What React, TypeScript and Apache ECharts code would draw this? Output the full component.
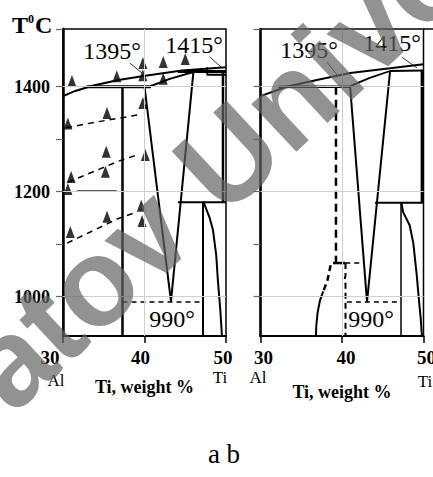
import React, { useEffect, useRef } from "react";
import * as echarts from "echarts";

// ---------- axes ----------
const xTicks = [30, 40, 50];
const yLabelValues = [1000, 1200, 1400];
const yTickValues = [1000, 1100, 1200, 1300, 1400, 1510];
const gridTemps = [1000, 1200, 1400];
const gridTi = [40];

// ---------- panel a ----------
const aLiquidus = [[30, 1382], [31.5, 1392], [33.6, 1402], [36.8, 1413], [40.1, 1421], [44.6, 1431], [50, 1437]];
const aPeritectic = [[32.9, 1400], [40.8, 1400]];
const aSolidus = [[40.7, 1401], [43.1, 1415], [46, 1428]];
const a1415 = [[44.1, 1429], [50, 1429]];
const aBox = [[47.7, 1437], [47.7, 1423], [50, 1423]];
const aVertical = [[37.3, 1400], [37.3, 925]];
const aVLeft = [[40.0, 1400], [43.25, 991]];
const aVRight = [[46.0, 1428], [43.25, 991]];
const a990 = [[37.3, 990], [46.9, 990]];
const aWall = [[49.63, 1429], [49.63, 1180]];
const aShelf = [[44.1, 1180], [50, 1180]];
const aInner = [[47.18, 1180], [47.18, 925]];
const aSolvus = [[47.3, 1178], [47.6, 1166], [48.0, 1150], [48.4, 1127], [48.8, 1079], [49.0, 1032], [49.3, 975], [49.5, 926]];
const aLeader1395 = [[38.2, 1445], [39.7, 1426]];
const aLeader1415 = [[48.0, 1457], [49.5, 1436]];
const aRowB = [[30.4, 1322], [34.2, 1333], [39.1, 1346]];
const aRowC = [[30.6, 1218], [36.8, 1258], [39.1, 1270]];
const aRowD = [[30.5, 1102], [36.8, 1149], [38.8, 1160]];
const aDark1200 = [[31.7, 1202], [36.6, 1202]];
const aPoints = [
  [31.1, 1411], [36.6, 1420], [39.8, 1445], [39.8, 1422], [42.3, 1447], [42.3, 1415], [45.0, 1453],
  [30.6, 1330], [35.4, 1350], [39.8, 1369],
  [35.3, 1276], [35.2, 1238], [40.1, 1270], [31.0, 1228], [30.6, 1205],
  [30.9, 1123], [35.4, 1152], [39.6, 1173], [39.7, 1144],
];

// ---------- panel b ----------
const bLiquidus = [[30, 1382], [33.2, 1400], [36.9, 1413], [41, 1426], [45.9, 1435], [50, 1443]];
const bPeritectic = [[32.2, 1400], [41.0, 1400]];
const bSolidus = [[41.0, 1401], [43.4, 1417], [45.9, 1430]];
const b1415 = [[45.9, 1430], [50, 1431]];
const bDashedVert = [[39.26, 1400], [39.26, 1064]];
const bBar = [[38.9, 1064], [40.4, 1064]];
const bDashedShelf = [[40.4, 1064], [42.7, 1064]];
const bDashedVert2 = [[40.43, 1064], [40.43, 1040], [40.3, 1032], [40.43, 1024], [40.43, 925]];
const bCurveDashed = [[38.6, 1060], [38.2, 1030], [37.7, 1010]];
const bCurveSolid = [[37.7, 1010], [37.3, 993], [37.0, 969], [36.85, 945], [36.8, 925]];
const bVLeft = [[41.0, 1400], [43.07, 990]];
const bVRight = [[45.9, 1430], [43.07, 990]];
const b990 = [[40.6, 990], [47.1, 990]];
const bWall = [[49.8, 1430], [49.8, 1179]];
const bShelf = [[44.05, 1179], [50, 1179]];
const bInner = [[47.24, 1179], [47.24, 925]];
const bSolvus = [[47.3, 1178], [47.5, 1161], [48.3, 1136], [48.75, 1102], [49.17, 1041], [49.4, 1000], [49.65, 960], [49.8, 926]];
const bLeader1395 = [[38.16, 1447], [39.4, 1422]];
const bLeader1415 = [[47.36, 1456], [49.2, 1436]];

const serif = "'Liberation Serif', 'Times New Roman', serif";

function ln(data: number[][], g: number, width: number, type: any = "solid", color = "#000") {
  return {
    type: "line",
    xAxisIndex: g,
    yAxisIndex: g,
    data,
    showSymbol: false,
    symbol: "none",
    silent: true,
    clip: false,
    z: 3,
    lineStyle: { color, width, type },
  };
}

function xAxisFor(g: number, offsets: Record<number, number>, nameGap: number) {
  const rich: any = {};
  xTicks.forEach((v) => {
    const o = offsets[v];
    rich["p" + v] = {
      fontFamily: serif,
      fontWeight: "bold",
      fontSize: 19,
      color: "#000",
      padding: o < 0 ? [0, -2 * o, 0, 0] : [0, 0, 0, 2 * o],
    };
  });
  return {
    type: "value",
    gridIndex: g,
    min: 30,
    max: 50,
    interval: 10,
    axisLine: { show: true, onZero: false, lineStyle: { color: "#000", width: 2 } },
    axisTick: { show: true, length: 7, lineStyle: { color: "#000", width: 1.5 } },
    axisLabel: {
      margin: 12,
      formatter: (v: number) => "{p" + v + "|" + v + "}",
      rich,
    },
    splitLine: { show: false },
    name: "Ti, weight %",
    nameLocation: "middle",
    nameGap,
    nameTextStyle: { fontFamily: serif, fontWeight: "bold", fontSize: 18, color: "#000" },
  };
}

function yAxisFor(g: number, labels: boolean) {
  return {
    type: "value",
    gridIndex: g,
    min: 925,
    max: 1510,
    axisLine: { show: true, onZero: false, lineStyle: { color: "#000", width: 2.5 } },
    axisTick: {
      show: true,
      length: 7,
      customValues: yTickValues,
      lineStyle: { color: "#666", width: 1.2 },
    },
    axisLabel: {
      show: labels,
      customValues: yLabelValues,
      formatter: (v: number) => String(v),
      margin: 13,
      fontFamily: serif,
      fontWeight: "bold",
      fontSize: 18,
      color: "#000",
    },
    splitLine: { show: false },
  };
}

function gridMarks() {
  return {
    silent: true,
    symbol: ["none", "none"],
    label: { show: false },
    lineStyle: { color: "#cfcfcf", width: 1, type: "solid" },
    data: [...gridTemps.map((t) => ({ yAxis: t })), ...gridTi.map((t) => ({ xAxis: t }))],
  };
}

export default function App() {
  const ref = useRef<HTMLDivElement>(null);
  useEffect(() => {
    if (!ref.current) return;
    const chart = echarts.init(ref.current, null, { renderer: "svg" });
    const option: any = {
      animation: false,
      backgroundColor: "#fff",
      grid: [
        { left: 63, top: 29, width: 163, height: 307, show: true, borderColor: "#000", borderWidth: 1.5, outerBoundsMode: "none", containLabel: false },
        { left: 260.5, top: 29, width: 163, height: 307, show: true, borderColor: "#000", borderWidth: 1.5, outerBoundsMode: "none", containLabel: false },
      ],
      xAxis: [xAxisFor(0, { 30: -13, 40: -4, 50: -3 }, 42), xAxisFor(1, { 30: 3, 40: 4, 50: 3 }, 47)],
      yAxis: [yAxisFor(0, true), yAxisFor(1, false)],
      series: [
        { ...ln(aVertical, 0, 2.5), markLine: gridMarks(), z: 3 },
        { ...ln(bInner, 1, 1.5), markLine: gridMarks(), z: 3 },
        ln(aLiquidus, 0, 2),
        ln(aPeritectic, 0, 3),
        ln(aSolidus, 0, 2),
        ln(a1415, 0, 3),
        ln(aBox, 0, 2),
        ln(aVLeft, 0, 2),
        ln(aVRight, 0, 2),
        ln(a990, 0, 1.5, [5, 4]),
        ln(aWall, 0, 2.5),
        ln(aShelf, 0, 2),
        ln(aInner, 0, 2),
        ln(aSolvus, 0, 2),
        ln(aLeader1395, 0, 0.8),
        ln(aLeader1415, 0, 0.8),
        ln(aRowB, 0, 1.5, [6, 5]),
        ln(aRowC, 0, 1.5, [6, 5]),
        ln(aRowD, 0, 1.5, [6, 5]),
        ln(aDark1200, 0, 1, "solid", "#444"),
        {
          type: "scatter",
          xAxisIndex: 0,
          yAxisIndex: 0,
          data: aPoints,
          symbol: "triangle",
          symbolSize: [9, 12],
          itemStyle: { color: "#000" },
          silent: true,
          z: 4,
        },
        ln(bLiquidus, 1, 2),
        ln(bPeritectic, 1, 2.5),
        ln(bSolidus, 1, 1.8),
        ln(b1415, 1, 2),
        ln(bDashedVert, 1, 2.5, [8, 5]),
        ln(bBar, 1, 2.5),
        ln(bDashedShelf, 1, 1.5, [5, 4]),
        ln(bDashedVert2, 1, 2, [6, 4]),
        ln(bCurveDashed, 1, 2.5, [6, 4]),
        ln(bCurveSolid, 1, 2),
        ln(bVLeft, 1, 2),
        ln(bVRight, 1, 2),
        ln(b990, 1, 1.5, [5, 4]),
        ln(bWall, 1, 2.5),
        ln(bShelf, 1, 2),
        ln(bSolvus, 1, 2),
        ln(bLeader1395, 1, 0.8),
        ln(bLeader1415, 1, 0.8),
      ],
      graphic: [
        {
          type: "text",
          x: 12,
          y: 13,
          style: {
            text: "{b|T}{s|0}{b|C}",
            rich: {
              b: { fontFamily: serif, fontWeight: "bold", fontSize: 24, fill: "#000" },
              s: { fontFamily: serif, fontWeight: "bold", fontSize: 12, fill: "#000", verticalAlign: "top", padding: [0, 1, 12, 0] },
            },
          },
        },
        { type: "line", shape: { x1: 423, y1: 29, x2: 433, y2: 29 }, style: { stroke: "#000", lineWidth: 1.5 } },
        ...[
          ["1395°", 112, 51], ["1415°", 194, 45], ["990°", 172, 319],
          ["1395°", 309, 50], ["1415°", 392, 43], ["990°", 371, 319],
        ].map(([t, x, y]) => ({
          type: "text",
          x, y,
          style: { text: t, font: "24px " + serif, fill: "#000", textAlign: "center", textVerticalAlign: "middle" },
        })),
        ...[
          ["Al", 56, 380], ["Ti", 220, 377], ["Al", 258, 377], ["Ti", 425, 381],
        ].map(([t, x, y]) => ({
          type: "text",
          x, y,
          style: { text: t, font: "17px " + serif, fill: "#000", textAlign: "center", textVerticalAlign: "middle" },
        })),
        {
          type: "text",
          x: 224, y: 454,
          style: { text: "a b", font: "27px " + serif, fill: "#000", textAlign: "center", textVerticalAlign: "middle" },
        },
        {
          type: "text",
          x: -163,
          y: 521,
          rotation: 0.75,
          z: 100,
          style: {
            text: "Saratov University",
            font: "bold 124px 'Liberation Sans', Arial, sans-serif",
            fill: "rgba(100,100,100,0.7)",
            textAlign: "left",
            textVerticalAlign: "middle",
          },
        },
      ],
    };
    chart.setOption(option);
    return () => chart.dispose();
  }, []);
  return (
    <div
      ref={ref}
      style={{ position: "absolute", left: 0, top: 0, width: 433, height: 477, background: "#fff" }}
    />
  );
}
